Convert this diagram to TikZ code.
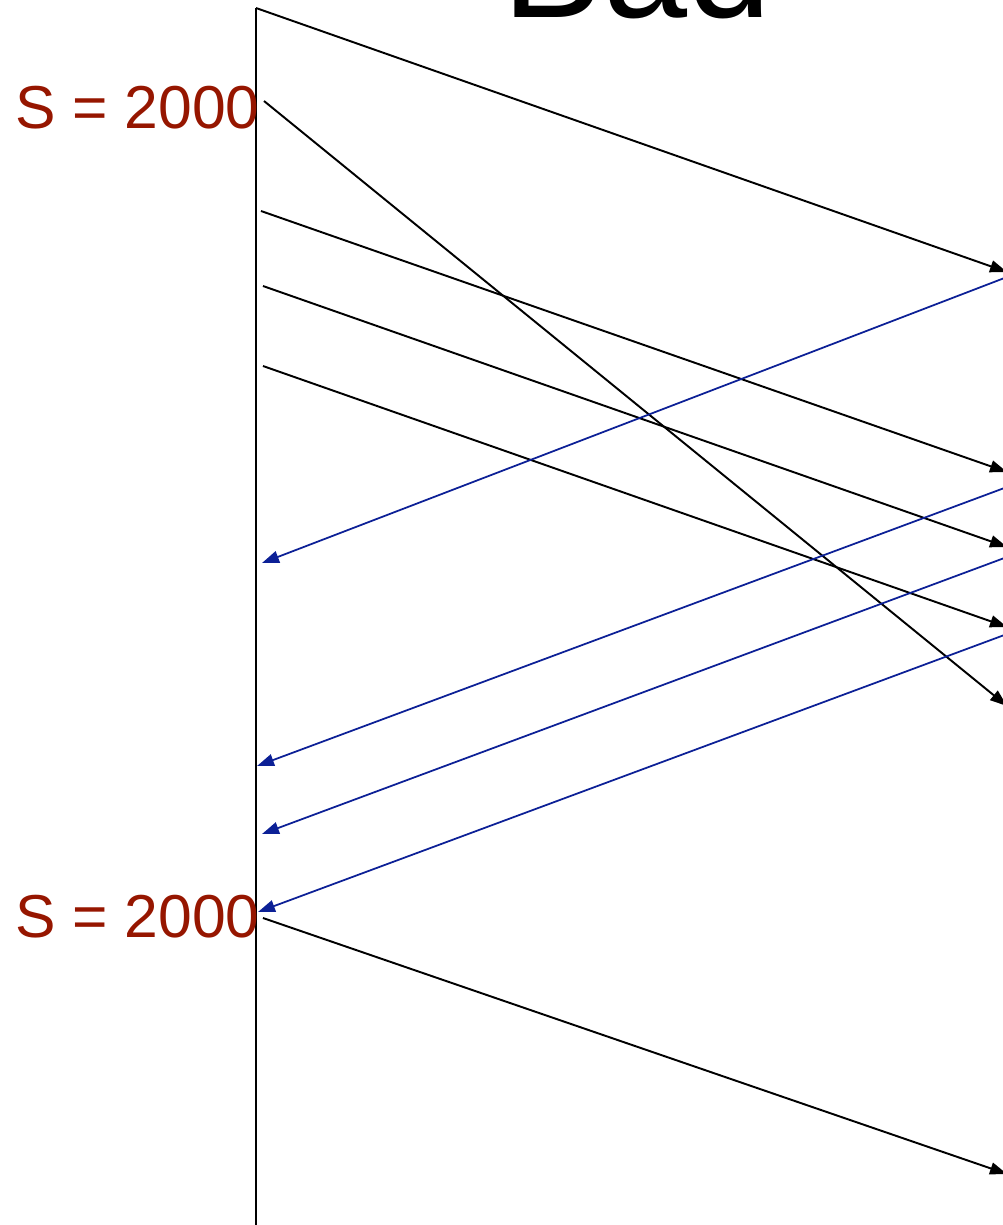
\documentclass[tikz,border=0pt]{standalone}
\usepackage{fontspec}
\setmainfont{Liberation Sans}
\usetikzlibrary{arrows.meta,positioning}
\definecolor{seqred}{RGB}{150,22,0}
\definecolor{seqblue}{RGB}{12,32,150}

\begin{document}
\begin{tikzpicture}[x=0.02cm, y=-0.02cm,
    data/.style={-{Triangle[length=0.34cm, width=0.24cm]}, line width=1.1pt, black},
    ack/.style={-{Triangle[length=0.34cm, width=0.24cm]}, line width=1pt, seqblue},
    seqlabel/.style={anchor=east, inner sep=0pt, text=seqred, font=\fontsize{34.5}{40}\selectfont}
]
\useasboundingbox (0,0) rectangle (1003,1225);
\clip (0,0) rectangle (1003,1225);

% title, cut at the top
\node[anchor=base, inner sep=0pt, font=\fontsize{86}{92}\selectfont] (title) at (637,17) {Bad};

% sender time line
\coordinate (top) at (256,8);
\coordinate (bottom) at (256,1240);
\draw[line width=0.9pt] (top) -- (bottom);

\node[seqlabel] (seqA) at (260,108) {S = 2000};
\node[seqlabel] (seqB) at (260,917) {S = 2000};

% sender side
\coordinate (s1) at (256,8);
\coordinate (s2) at (264,101);
\coordinate (s3) at (261,211);
\coordinate (s4) at (263,286);
\coordinate (s5) at (263,366);
\coordinate (s6) at (263,918);
\coordinate (a1) at (262,563);
\coordinate (a2) at (257,766);
\coordinate (a3) at (262,834);
\coordinate (a4) at (258,912);

% receiver side (off the right edge)
\coordinate (r1) at (1007,272);
\coordinate (r2) at (1007,706);
\coordinate (r3) at (1007,472);
\coordinate (r4) at (1007,547);
\coordinate (r5) at (1007,627);
\coordinate (r6) at (1007,1174);
\coordinate (b1) at (1007,277);
\coordinate (b2) at (1007,487);
\coordinate (b3) at (1007,557);
\coordinate (b4) at (1007,634);

\draw[data] (s1) -- (r1);
\draw[data] (s2) -- (r2);
\draw[data] (s3) -- (r3);
\draw[data] (s4) -- (r4);
\draw[data] (s5) -- (r5);
\draw[data] (s6) -- (r6);

\draw[ack] (b1) -- (a1);
\draw[ack] (b2) -- (a2);
\draw[ack] (b3) -- (a3);
\draw[ack] (b4) -- (a4);

\end{tikzpicture}
\end{document}
